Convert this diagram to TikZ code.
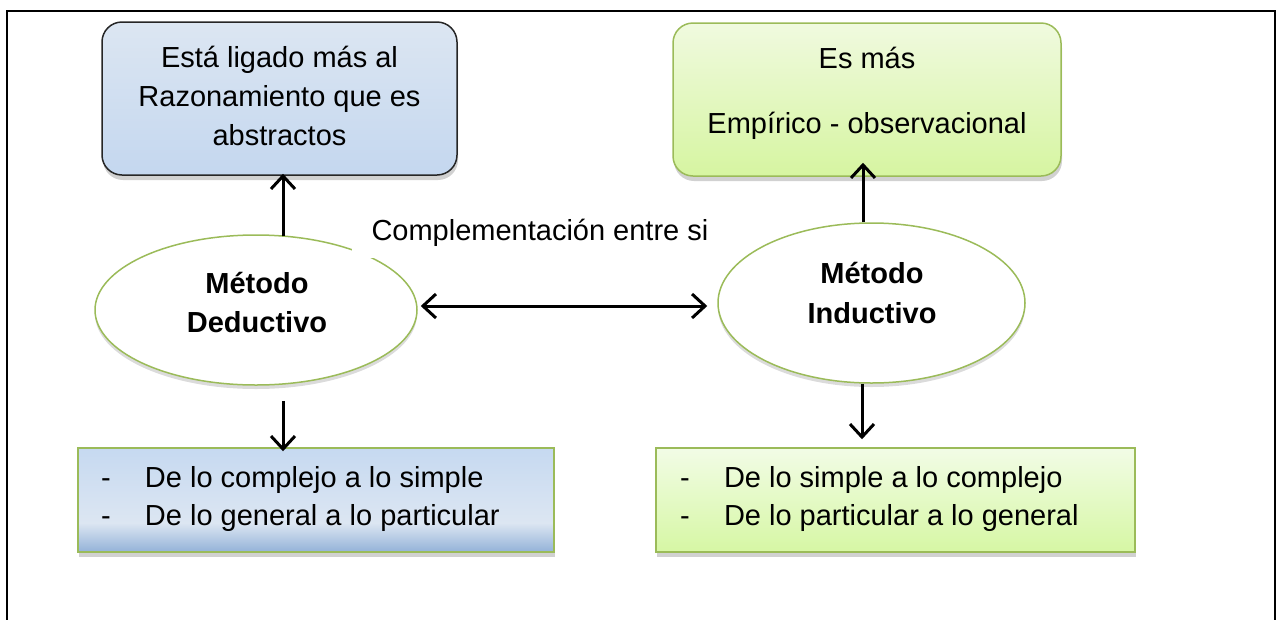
\documentclass[tikz,border=0pt]{standalone}
\usepackage{fontspec}
\setmainfont{Liberation Sans}
\usetikzlibrary{shapes.geometric,arrows.meta,shadows,calc}
\definecolor{oliveG}{HTML}{9BBB59}
\definecolor{darkB}{HTML}{262626}
\definecolor{tlTop}{HTML}{DCE6F2}
\definecolor{tlBot}{HTML}{C4D7EF}
\definecolor{trTop}{HTML}{F0FADF}
\definecolor{trBot}{HTML}{D6F5A1}
\definecolor{brTop}{HTML}{F2FCE6}
\definecolor{brBot}{HTML}{D6F7A4}
\definecolor{blA}{HTML}{93B2D8}
\definecolor{blB}{HTML}{DCE6F2}
\definecolor{blC}{HTML}{C6D9F1}
\pgfdeclareverticalshading{blshade}{100bp}{color(0bp)=(blA); color(25bp)=(blA); color(39bp)=(blB); color(75bp)=(blC); color(100bp)=(blC)}
\begin{document}
\begin{tikzpicture}[x=1pt,y=-1pt,
  txt/.style={font=\fontsize{29}{39}\selectfont, inner sep=0pt, outer sep=0pt},
  boxshadow/.style={drop shadow={shadow xshift=1pt, shadow yshift=-5pt, fill=black!45, opacity=0.4}},
  tlbox/.style={draw=darkB, line width=1.5pt, rounded corners=20pt, top color=tlTop, bottom color=tlBot, boxshadow, inner sep=0pt},
  trbox/.style={draw=oliveG, line width=1.5pt, rounded corners=20pt, top color=trTop, bottom color=trBot, boxshadow, inner sep=0pt},
  blbox/.style={draw=oliveG, line width=1.5pt, shade, shading=blshade, boxshadow, inner sep=0pt},
  brbox/.style={draw=oliveG, line width=1.5pt, top color=brTop, bottom color=brBot, boxshadow, inner sep=0pt},
  metodo/.style={ellipse, draw=oliveG, line width=1.5pt, fill=white, inner sep=0pt,
     drop shadow={shadow xshift=0pt, shadow yshift=-4pt, fill=black!40, opacity=0.35}},
  arr/.style={line width=3pt, -{Straight Barb[length=13pt,width=24pt]}},
  dbl/.style={line width=3pt, {Straight Barb[length=13pt,width=24pt]}-{Straight Barb[length=13pt,width=24pt]}}
]
\useasboundingbox (0,0) rectangle (1277,619);
\clip (0,0) rectangle (1277,619);
% outer frame (open at the bottom)
\draw[line width=2.5pt] (7,640) -- (7,11) -- (1275,11) -- (1275,640);

% boxes
\node[tlbox, minimum width=355pt, minimum height=153pt] (tl) at (279.5,98.5) {};
\node[trbox, minimum width=388pt, minimum height=153pt] (tr) at (867,99.5) {};
\node[blbox, minimum width=476pt, minimum height=104pt] (bl) at (316,500) {};
\node[brbox, minimum width=479pt, minimum height=104pt] (br) at (895.5,500) {};

% ellipses
\node[metodo, minimum width=322pt, minimum height=150pt] (le) at (256,310) {};
\node[metodo, minimum width=307pt, minimum height=160pt] (re) at (871.5,303) {};

% texts
\node[txt, anchor=base] (tlt) at (279.5,67) {\begin{tabular}[t]{@{}c@{}}Está ligado más al\\Razonamiento que es\\abstractos\end{tabular}};
\node[txt, font=\fontsize{29}{65}\selectfont, anchor=base] (trt) at (867,68) {\begin{tabular}[t]{@{}c@{}}Es más\\Empírico - observacional\end{tabular}};
\node[txt, font=\fontsize{29}{38}\selectfont, anchor=base west] (blt) at (101,487) {\begin{tabular}[t]{@{}l@{}}\makebox[44pt][l]{-}De lo complejo a lo simple\\\makebox[44pt][l]{-}De lo general a lo particular\end{tabular}};
\node[txt, font=\fontsize{29}{38}\selectfont, anchor=base west] (brt) at (680,487) {\begin{tabular}[t]{@{}l@{}}\makebox[44pt][l]{-}De lo simple a lo complejo\\\makebox[44pt][l]{-}De lo particular a lo general\end{tabular}};
\node[txt, font=\fontsize{29}{39}\selectfont\bfseries, anchor=base] (let) at (257,293) {\begin{tabular}[t]{@{}c@{}}Método\\Deductivo\end{tabular}};
\node[txt, font=\fontsize{29}{40}\selectfont\bfseries, anchor=base] (ret) at (872,283) {\begin{tabular}[t]{@{}c@{}}Método\\Inductivo\end{tabular}};

% label with white background
\node[txt, fill=white, inner xsep=20pt, inner ysep=12pt, anchor=base west] (lab) at (351.5,240) {Complementación entre si};

% connectors
\draw[arr] ($(le.north)+(27,2)$) -- ($(tl.south)+(3.5,-2)$);
\draw[arr] ($(re.north)+(-8.5,0)$) -- ($(tr.south)+(-4,-14)$);
\draw[arr] ($(le.south)+(27,15)$) -- ($(bl.north)+(-33,4)$);
\draw[arr] ($(re.south)+(-9.5,0)$) -- ($(br.north)+(-33.5,-8)$);
\draw[dbl] ($(le.east)+(3,-4)$) -- ($(re.west)+(-10,3)$);
\end{tikzpicture}
\end{document}
